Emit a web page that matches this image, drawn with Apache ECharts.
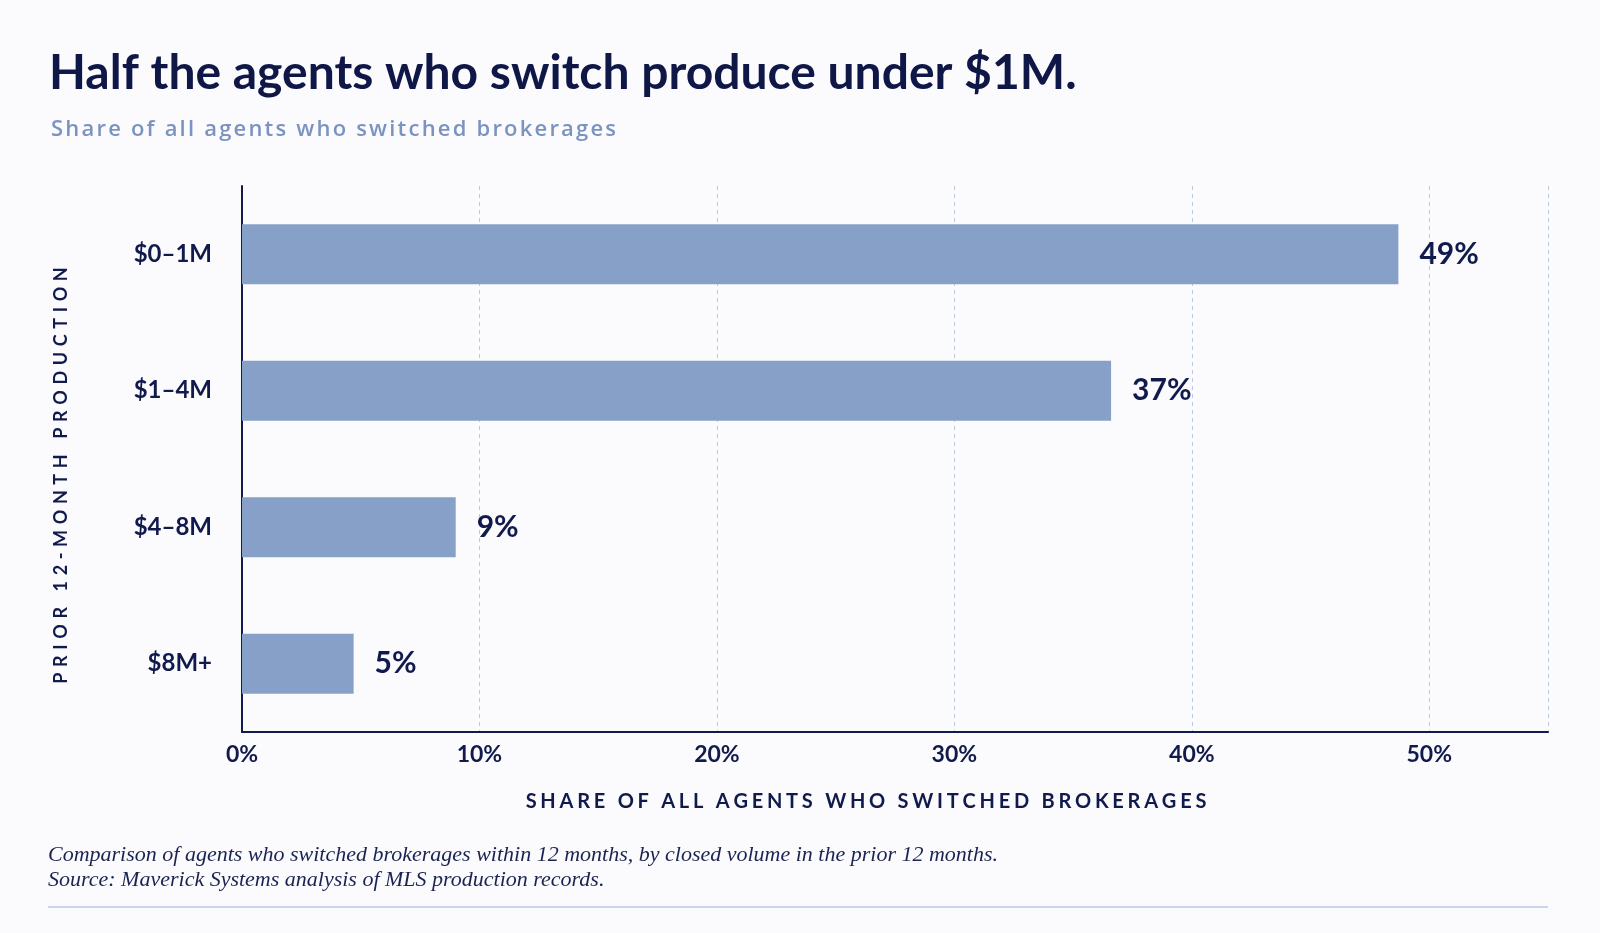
<!DOCTYPE html>
<html>
<head>
<meta charset="utf-8">
<title>Half the agents who switch produce under $1M.</title>
<script src="https://cdn.jsdelivr.net/npm/echarts@6/dist/echarts.min.js"></script>
<style>
  html, body { margin: 0; padding: 0; background: #fbfbfd; }
  #chart { width: 1600px; height: 933px; }
</style>
</head>
<body>
<div id="chart"></div>
<script>
// data
const categories = ["$0–1M", "$1–4M", "$4–8M", "$8M+"];
const shares = [48.7, 36.6, 9.0, 4.7];
const shareLabels = ["49%", "37%", "9%", "5%"];
const xTicks = [0, 10, 20, 30, 40, 50];

const NAVY = "#111a4d";
const FONT = "Lato, 'Open Sans', sans-serif";

// canvas text has no letter-spacing: pad letters with hair spaces
// until the string is about as wide as in the reference
const measureCtx = document.createElement("canvas").getContext("2d");
function spreadTo(str, font, width) {
  measureCtx.font = font;
  const base = measureCtx.measureText(str).width;
  const hair = measureCtx.measureText("\u200A").width || 1;
  const perGap = Math.max(0, (width - base) / (str.length - 1));
  const n = Math.round(perGap / hair);
  return n > 0 ? str.split("").join("\u200A".repeat(n)) : str;
}

const subFont = "600 22px 'Open Sans'";
const xNameFont = "bold 20px Lato";
const yNameFont = "bold 18px Lato";

const el = document.getElementById("chart");
const chart = echarts.init(el);

chart.setOption({
  backgroundColor: "#fbfbfd",
  animation: false,
  title: [
    {
      text: "Half the agents who switch produce under $1M.",
      left: 44,
      top: 45,
      textStyle: {
        color: "#0f1747",
        fontFamily: FONT,
        fontWeight: "bold",
        fontSize: 48
      }
    },
    {
      text: spreadTo("Share of all agents who switched brokerages", subFont, 566),
      left: 46,
      top: 114,
      textStyle: {
        color: "#7b93c0",
        fontFamily: "'Open Sans', Lato, sans-serif",
        fontWeight: 600,
        fontSize: 22
      }
    }
  ],
  grid: {
    left: 242,
    right: 52,
    top: 186,
    bottom: 201,
    containLabel: false
  },
  xAxis: {
    type: "value",
    min: 0,
    max: 55,
    interval: 10,
    name: spreadTo("SHARE OF ALL AGENTS WHO SWITCHED BROKERAGES", xNameFont, 676),
    nameLocation: "middle",
    nameGap: 60,
    nameTextStyle: {
      color: NAVY,
      fontFamily: FONT,
      fontWeight: "bold",
      fontSize: 20,
      padding: [0, 58, 0, 0]
    },
    axisLine: { show: true, lineStyle: { color: NAVY, width: 2 } },
    axisTick: { show: false },
    axisLabel: {
      color: NAVY,
      fontFamily: FONT,
      fontWeight: "bold",
      fontSize: 23,
      margin: 11,
      customValues: xTicks,
      formatter: v => v + "%"
    },
    splitLine: {
      show: true,
      lineStyle: { color: "#b9c8e3", type: [4, 4], width: 1 }
    }
  },
  yAxis: {
    type: "category",
    inverse: true,
    data: categories,
    name: spreadTo("PRIOR 12-MONTH PRODUCTION", yNameFont, 410),
    nameLocation: "middle",
    nameGap: 172,
    nameRotate: 90,
    nameTextStyle: {
      color: NAVY,
      fontFamily: FONT,
      fontWeight: "bold",
      fontSize: 18,
      padding: [0, 33, 0, 0]
    },
    axisLine: { show: true, lineStyle: { color: NAVY, width: 2 } },
    axisTick: { show: false },
    axisLabel: {
      color: NAVY,
      fontFamily: FONT,
      fontWeight: "bold",
      fontSize: 24,
      margin: 30
    },
    splitLine: { show: false }
  },
  series: [
    {
      type: "bar",
      data: shares,
      barWidth: 60,
      itemStyle: { color: "#87a0c7" },
      label: {
        show: true,
        position: "right",
        distance: 21,
        color: NAVY,
        fontFamily: FONT,
        fontWeight: "bold",
        fontSize: 30,
        formatter: p => shareLabels[p.dataIndex]
      }
    }
  ],
  graphic: [
    {
      type: "text",
      left: 48,
      top: 843,
      style: {
        text: "Comparison of agents who switched brokerages within 12 months, by closed volume in the prior 12 months.\nSource: Maverick Systems analysis of MLS production records.",
        fill: "#1a2352",
        font: "italic 22px 'Liberation Serif', 'DejaVu Serif', serif",
        lineHeight: 25
      }
    },
    {
      type: "line",
      shape: { x1: 48, y1: 907, x2: 1548, y2: 907 },
      style: { stroke: "#b9c8e3", lineWidth: 1.5 }
    }
  ]
});
</script>
</body>
</html>
